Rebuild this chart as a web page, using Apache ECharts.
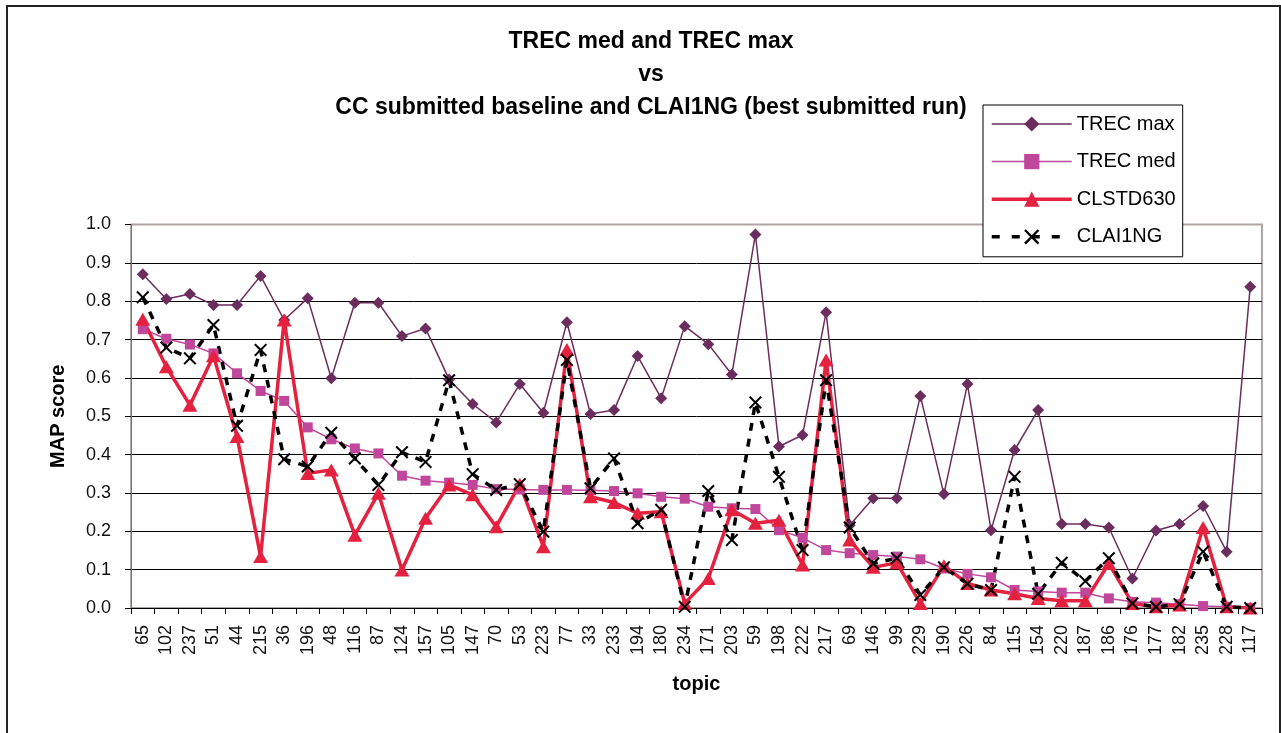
<!DOCTYPE html>
<html>
<head>
<meta charset="utf-8">
<script src="https://cdn.jsdelivr.net/npm/echarts@6/dist/echarts.min.js"></script>
<style>
  html, body { margin: 0; padding: 0; background: #fff; }
  #chart { width: 1281px; height: 733px; }
</style>
</head>
<body>
<div id="chart"></div>
<script>
const topics = ['65', '102', '237', '51', '44', '215', '36', '196', '48', '116', '87', '124', '157', '105', '147', '70',
  '53', '223', '77', '33', '233', '194', '180', '234', '171', '203', '59', '198', '222', '217', '69', '146',
  '99', '229', '190', '226', '84', '115', '154', '220', '187', '186', '176', '177', '182', '235', '228', '117']

const trecMax = [0.870, 0.806, 0.819, 0.790, 0.790, 0.866, 0.751, 0.808, 0.599, 0.796,
  0.796, 0.709, 0.729, 0.596, 0.532, 0.484, 0.584, 0.509, 0.745, 0.506,
  0.516, 0.657, 0.547, 0.735, 0.688, 0.609, 0.974, 0.421, 0.451, 0.771,
  0.216, 0.286, 0.286, 0.553, 0.297, 0.584, 0.203, 0.412, 0.516, 0.219,
  0.219, 0.210, 0.077, 0.202, 0.219, 0.266, 0.147, 0.838]

const trecMed = [0.727, 0.702, 0.687, 0.664, 0.612, 0.566, 0.540, 0.471, 0.440, 0.416,
  0.403, 0.345, 0.332, 0.327, 0.321, 0.310, 0.309, 0.308, 0.308, 0.307,
  0.305, 0.299, 0.290, 0.285, 0.264, 0.260, 0.258, 0.203, 0.183, 0.151,
  0.143, 0.138, 0.134, 0.127, 0.103, 0.089, 0.080, 0.047, 0.043, 0.040,
  0.040, 0.025, 0.016, 0.014, 0.010, 0.005, 0.003, 0.000]

const clstd630 = [0.753, 0.629, 0.529, 0.658, 0.447, 0.134, 0.751, 0.351, 0.360, 0.190,
  0.299, 0.099, 0.234, 0.321, 0.295, 0.212, 0.323, 0.160, 0.674, 0.290,
  0.275, 0.247, 0.251, 0.012, 0.077, 0.256, 0.221, 0.229, 0.112, 0.647,
  0.177, 0.106, 0.118, 0.012, 0.110, 0.064, 0.047, 0.037, 0.025, 0.019,
  0.019, 0.116, 0.012, 0.003, 0.008, 0.210, 0.003, 0.000]

const clai1ng = [0.810, 0.679, 0.651, 0.738, 0.475, 0.673, 0.388, 0.369, 0.457, 0.390,
  0.321, 0.406, 0.381, 0.594, 0.349, 0.308, 0.323, 0.199, 0.647, 0.312,
  0.390, 0.221, 0.256, 0.003, 0.305, 0.177, 0.536, 0.342, 0.151, 0.594,
  0.210, 0.116, 0.130, 0.034, 0.106, 0.063, 0.047, 0.342, 0.037, 0.118,
  0.070, 0.130, 0.012, 0.003, 0.010, 0.147, 0.003, 0.000]

const yTicks = ['0.0', '0.1', '0.2', '0.3', '0.4', '0.5', '0.6', '0.7', '0.8', '0.9', '1.0']

const FONT = '"Liberation Sans", Arial, sans-serif'
// filled cross, Excel style "x" marker
const crossPath = 'path://M0,1.1L1.1,0L5,3.9L8.9,0L10,1.1L6.1,5L10,8.9L8.9,10L5,6.1L1.1,10L0,8.9L3.9,5Z'

const chart = echarts.init(document.getElementById('chart'), null, { renderer: 'canvas' })

chart.setOption({
  animation: false,
  backgroundColor: '#fff',
  textStyle: { fontFamily: FONT },
  title: {
    text: 'TREC med and TREC max\nvs\nCC submitted baseline and CLAI1NG (best submitted run)',
    left: 646,
    top: 20,
    textAlign: 'center',
    textStyle: { fontFamily: FONT, fontSize: 23, fontWeight: 'bold', color: '#000', lineHeight: 33 }
  },
  graphic: [{
    type: 'rect',
    shape: { x: 7, y: 6, width: 1273, height: 740 },
    style: { fill: 'none', stroke: '#222', lineWidth: 2 },
    silent: true
  }],
  legend: {
    orient: 'vertical',
    left: 983,
    top: 105,
    padding: [9, 7, 10, 7],
    itemWidth: 80,
    itemHeight: 19,
    itemGap: 17.6,
    backgroundColor: '#fff',
    borderColor: '#000',
    borderWidth: 1,
    textStyle: { fontFamily: FONT, fontSize: 20, color: '#000', lineHeight: 20 },
    data: [
      { name: 'TREC max', lineStyle: { width: 1.5 } },
      { name: 'TREC med', lineStyle: { width: 1.5 } },
      { name: 'CLSTD630', lineStyle: { width: 3.5 } },
      { name: 'CLAI1NG', lineStyle: { width: 3.5, type: [8, 12] } }
    ]
  },
  grid: {
    left: 131, right: 19, top: 224.5, bottom: 125,
    show: true, borderColor: '#b0a4a4', borderWidth: 2, backgroundColor: '#fff'
  },
  xAxis: {
    type: 'category',
    data: topics,
    boundaryGap: true,
    name: 'topic',
    nameLocation: 'middle',
    nameGap: 66,
    nameTextStyle: { fontFamily: FONT, fontSize: 20, fontWeight: 'bold', color: '#000' },
    axisLine: { lineStyle: { color: '#000', width: 1 } },
    axisTick: { show: true, length: 6, alignWithLabel: false, lineStyle: { color: '#000' } },
    axisLabel: { interval: 0, rotate: 90, margin: 17, fontSize: 18, color: '#111', fontFamily: FONT },
    splitLine: { show: false }
  },
  yAxis: {
    type: 'value',
    min: 0,
    max: 1,
    interval: 0.1,
    name: 'MAP score',
    nameLocation: 'middle',
    nameGap: 63,
    nameTextStyle: { fontFamily: FONT, fontSize: 20, fontWeight: 'bold', color: '#000' },
    axisLine: { show: true, lineStyle: { color: '#777', width: 1 } },
    axisTick: { show: true, length: 6, lineStyle: { color: '#000' } },
    axisLabel: {
      margin: 20, fontSize: 18, color: '#111', fontFamily: FONT,
      formatter: v => yTicks[Math.round(v * 10)]
    },
    splitLine: {
      show: true,
      lineStyle: { width: 1, color: ['#000', '#000', '#000', '#000', '#000', '#000', '#000', '#000', '#000', '#000', '#b0a4a4'] }
    }
  },
  series: [
    {
      name: 'TREC max', type: 'line', data: trecMax,
      symbol: 'diamond', symbolSize: 12,
      lineStyle: { color: '#6b2d5e', width: 1.5 },
      itemStyle: { color: '#6b2d5e' }
    },
    {
      name: 'TREC med', type: 'line', data: trecMed,
      symbol: 'rect', symbolSize: 10,
      lineStyle: { color: '#c0479c', width: 1.5 },
      itemStyle: { color: '#c0479c' }
    },
    {
      name: 'CLSTD630', type: 'line', data: clstd630,
      symbol: 'triangle', symbolSize: [15, 13],
      lineStyle: { color: '#e4213f', width: 3.5 },
      itemStyle: { color: '#e4213f' }
    },
    {
      name: 'CLAI1NG', type: 'line', data: clai1ng,
      symbol: crossPath, symbolSize: 13,
      lineStyle: { color: '#000', width: 3.5, type: [8, 8] },
      itemStyle: { color: '#000' }
    }
  ]
})
</script>
</body>
</html>
